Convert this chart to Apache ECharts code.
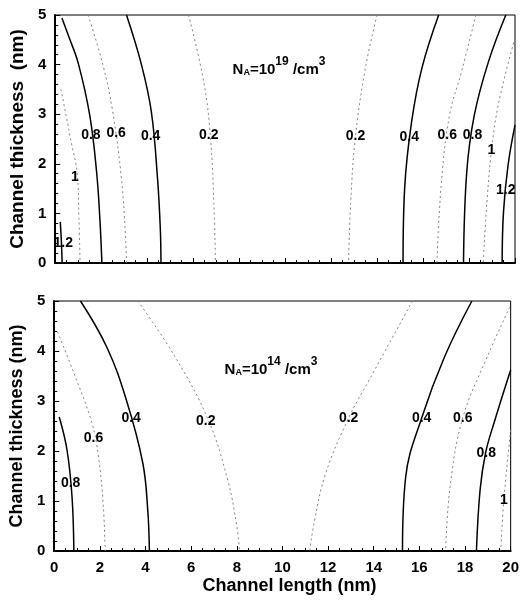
<!DOCTYPE html>
<html>
<head>
<meta charset="utf-8">
<script src="https://cdn.jsdelivr.net/npm/echarts@6/dist/echarts.min.js"></script>
<style>
html,body{margin:0;padding:0;background:#fff;}
#chart{width:522px;height:607px;}
</style>
</head>
<body>
<div id="chart"></div>
<script>
// ---- data (x: channel length nm, y: channel thickness nm) ----
var xTicks = [0, 2, 4, 6, 8, 10, 12, 14, 16, 18, 20];
var yTicks = [0, 1, 2, 3, 4, 5];

// Top panel: NA = 1e19 /cm3
var top_c12_left  = [[0.22, 0.83], [0.27, 0.4], [0.3, 0]];
var top_c10_left  = [[0.25, 3.5], [0.47, 2.98], [0.72, 2.38], [0.95, 1.83], [1.03, 0.9], [1.08, 0]];
var top_c08_left  = [[0.29, 4.94], [0.6, 4.55], [1.0, 4.03], [1.5, 2.98], [1.8, 1.83], [1.94, 0.9], [2.03, 0]];
var top_c06_left  = [[1.43, 5], [2.07, 4.0], [2.5, 3.05], [2.88, 1.7], [3.05, 0.6], [3.1, 0]];
var top_c04_left  = [[3.1, 5], [3.75, 4.0], [4.18, 3.05], [4.45, 1.7], [4.57, 0.7], [4.6, 0]];
var top_c02_left  = [[5.8, 5], [6.47, 3.63], [6.76, 2.48], [6.9, 1.2], [6.97, 0]];
var top_c02_right = [[14.0, 5], [13.5, 3.95], [13.06, 2.55], [12.85, 1.2], [12.76, 0]];
var top_c04_right = [[16.68, 5], [15.95, 3.93], [15.5, 2.84], [15.2, 1.51], [15.13, 0]];
var top_c06_right = [[18.3, 5], [17.67, 3.85], [17.15, 2.98], [16.8, 1.63], [16.6, 0]];
var top_c08_right = [[19.6, 5], [18.84, 4.05], [18.23, 2.98], [17.9, 1.83], [17.76, 0]];
var top_c10_right = [[20, 4.54], [19.3, 3.25], [18.97, 2.24], [18.75, 1.03], [18.62, 0]];
var top_c12_right = [[20, 2.78], [19.7, 1.98], [19.5, 1.03], [19.44, 0]];
var top_labels = [
  [0.35, 0.4, '1.2'], [0.86, 1.73, '1'], [1.55, 2.58, '0.8'], [2.65, 2.62, '0.6'],
  [4.15, 2.55, '0.4'], [6.68, 2.58, '0.2'], [13.06, 2.55, '0.2'], [15.4, 2.54, '0.4'],
  [17.05, 2.58, '0.6'], [18.15, 2.58, '0.8'], [18.97, 2.28, '1'], [19.6, 1.47, '1.2']
];

// Bottom panel: NA = 1e14 /cm3
var bot_c08_left  = [[0.22, 2.68], [0.56, 2.02], [0.78, 1.08], [0.86, 0]];
var bot_c06_left  = [[0.14, 4.38], [0.86, 3.56], [1.65, 2.56], [1.94, 1.88], [2.15, 0.9], [2.23, 0]];
var bot_c04_left  = [[1.15, 5], [2.3, 4.08], [3.16, 3.02], [3.88, 1.76], [4.1, 0.8], [4.17, 0]];
var bot_c02_left  = [[3.66, 5], [5.3, 3.88], [6.75, 2.62], [7.6, 1.42], [8.0, 0.5], [8.12, 0]];
var bot_c02_right = [[15.7, 5], [13.8, 3.42], [12.9, 2.66], [11.9, 1.56], [11.4, 0.6], [11.2, 0]];
var bot_c04_right = [[18.3, 5], [17.1, 3.88], [16.1, 2.66], [15.4, 1.48], [15.26, 0]];
var bot_c06_right = [[19.96, 4.88], [18.97, 3.88], [17.9, 2.66], [17.35, 1.3], [17.15, 0]];
var bot_c08_right = [[20, 3.62], [19.27, 2.56], [18.9, 1.96], [18.66, 1.22], [18.5, 0]];
var bot_c10_right = [[20, 2.42], [19.7, 1.02], [19.57, 0]];
var bot_labels = [
  [0.72, 1.36, '0.8'], [1.72, 2.26, '0.6'], [3.37, 2.66, '0.4'], [6.64, 2.6, '0.2'],
  [12.9, 2.66, '0.2'], [16.1, 2.66, '0.4'], [17.9, 2.66, '0.6'], [18.93, 1.96, '0.8'], [19.7, 1.02, '1']
];

// ---- chart ----
var FONT = 'Arial, "Liberation Sans", sans-serif';
var solidStyle = {color: '#000', width: 1.5, type: 'solid'};
var dotStyle = {color: '#808080', width: 1, type: [2, 3]};

var contours = [
  [0, top_c12_left, solidStyle], [0, top_c10_left, dotStyle], [0, top_c08_left, solidStyle],
  [0, top_c06_left, dotStyle], [0, top_c04_left, solidStyle], [0, top_c02_left, dotStyle],
  [0, top_c02_right, dotStyle], [0, top_c04_right, solidStyle], [0, top_c06_right, dotStyle],
  [0, top_c08_right, solidStyle], [0, top_c10_right, dotStyle], [0, top_c12_right, solidStyle],
  [1, bot_c08_left, solidStyle], [1, bot_c06_left, dotStyle], [1, bot_c04_left, solidStyle],
  [1, bot_c02_left, dotStyle], [1, bot_c02_right, dotStyle], [1, bot_c04_right, solidStyle],
  [1, bot_c06_right, dotStyle], [1, bot_c08_right, solidStyle], [1, bot_c10_right, dotStyle]
];

var series = contours.map(function (c) {
  return {
    type: 'line', xAxisIndex: c[0], yAxisIndex: c[0], data: c[1],
    smooth: 0.4, showSymbol: false, symbol: 'none', lineStyle: c[2], silent: true, z: 2
  };
});
[[0, top_labels], [1, bot_labels]].forEach(function (l) {
  series.push({
    type: 'scatter', xAxisIndex: l[0], yAxisIndex: l[0], data: l[1], symbolSize: 0, silent: true, z: 5,
    itemStyle: {opacity: 1, color: '#000'},
    label: {
      show: true, position: 'inside', formatter: function (p) { return p.data[2]; },
      color: '#000', opacity: 1, textBorderWidth: 0, fontWeight: 'bold', fontSize: 14, fontFamily: FONT
    }
  });
});

function xAxisCfg(idx, showLabels) {
  return {
    gridIndex: idx, type: 'value', min: 0, max: 20, interval: 2,
    axisLine: {show: true, onZero: false, lineStyle: {color: '#000', width: 2}},
    axisTick: {show: true, inside: true, length: 5, lineStyle: {color: '#000', width: 1}},
    minorTick: {show: true, splitNumber: 4, length: 3, lineStyle: {color: '#000', width: 1}},
    splitLine: {show: false},
    axisLabel: {show: showLabels, color: '#000', fontWeight: 'bold', fontSize: 15, fontFamily: FONT, margin: 9},
    name: showLabels ? 'Channel length (nm)' : '',
    nameLocation: 'middle', nameGap: 26,
    nameTextStyle: {color: '#000', fontWeight: 'bold', fontSize: 18, fontFamily: FONT, padding: [0, 0, 0, 14]}
  };
}
function yAxisCfg(idx, name, fs) {
  return {
    gridIndex: idx, type: 'value', min: 0, max: 5, interval: 1,
    axisLine: {show: true, onZero: false, lineStyle: {color: '#000', width: 2}},
    axisTick: {show: true, inside: true, length: 5, lineStyle: {color: '#000', width: 1}},
    minorTick: {show: true, splitNumber: 5, length: 3, lineStyle: {color: '#000', width: 1}},
    splitLine: {show: false},
    axisLabel: {color: '#000', fontWeight: 'bold', fontSize: 15, fontFamily: FONT, margin: 9},
    name: name, nameLocation: 'middle', nameGap: 23, nameRotate: 90,
    nameTextStyle: {color: '#000', fontWeight: 'bold', fontSize: fs, fontFamily: FONT, verticalAlign: 'bottom'}
  };
}

function naText(exp, x, y) {
  return {
    type: 'text', x: x, y: y, z: 10,
    style: {
      text: '{n|N}{a|A}{t|=10}{s|' + exp + '}{t| /cm}{s|3}',
      align: 'center', verticalAlign: 'middle',
      rich: {
        n: {fontSize: 15, fontWeight: 'bold', fontFamily: FONT, fill: '#000'},
        t: {fontSize: 15, fontWeight: 'bold', fontFamily: FONT, fill: '#000'},
        a: {fontSize: 9, fontWeight: 'bold', fontFamily: FONT, fill: '#000', padding: [5, 0, 0, 0]},
        s: {fontSize: 12, fontWeight: 'bold', fontFamily: FONT, fill: '#000', padding: [0, 0, 16, 0]}
      }
    }
  };
}

var chart = echarts.init(document.getElementById('chart'), null, {renderer: 'canvas'});
chart.setOption({
  animation: false,
  backgroundColor: '#fff',
  grid: [
    {left: 50, top: 15, width: 465, height: 248, show: true, borderColor: '#000', borderWidth: 1, containLabel: false},
    {left: 50, top: 301, width: 464, height: 250, show: true, borderColor: '#000', borderWidth: 1, containLabel: false}
  ],
  xAxis: [xAxisCfg(0, false), xAxisCfg(1, true)],
  yAxis: [yAxisCfg(0, 'Channel thickness  (nm)', 19), yAxisCfg(1, 'Channel thickness (nm)', 18)],
  series: series,
  graphic: [naText('19', 279, 70), naText('14', 271, 370)]
});
</script>
</body>
</html>
